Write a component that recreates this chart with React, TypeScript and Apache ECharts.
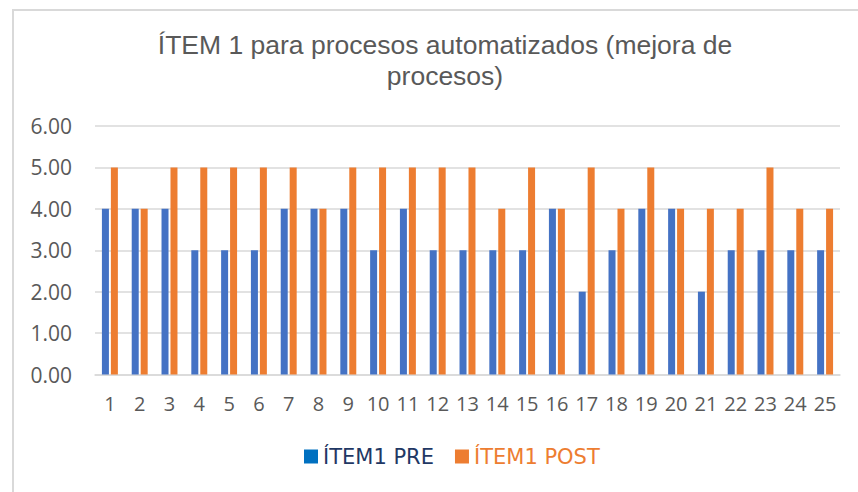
import React, { useEffect, useRef } from "react";
import * as echarts from "echarts";

const categories = ["1","2","3","4","5","6","7","8","9","10","11","12","13","14","15","16","17","18","19","20","21","22","23","24","25"];
const preValues = [4,4,4,3,3,3,4,4,4,3,4,3,3,3,3,4,2,3,4,4,2,3,3,3,3];
const postValues = [5,4,5,5,5,5,5,4,5,5,5,5,5,4,5,4,5,4,5,4,4,4,5,4,4];
const seriesNames = ["ÍTEM1 PRE", "ÍTEM1 POST"];
const titleText = "ÍTEM 1 para procesos automatizados (mejora de\nprocesos)";

export default function App() {
  const ref = useRef<HTMLDivElement>(null);
  useEffect(() => {
    if (!ref.current) return;
    const chart = echarts.init(ref.current, undefined, { renderer: "svg" });
    chart.setOption({
      animation: false,
      backgroundColor: "#ffffff",
      title: {
        text: titleText,
        left: 440,
        top: 24,
        textAlign: "center",
        textStyle: {
          fontFamily: "Liberation Sans",
          fontSize: 26.5,
          fontWeight: "normal",
          color: "#595959",
          lineHeight: 31,
        },
      },
      graphic: [
        {
          type: "rect",
          shape: { x: 13, y: 10, width: 900, height: 600 },
          style: { fill: "none", stroke: "#d9d9d9", lineWidth: 2 },
          silent: true,
          z: -1,
        },
      ],
      legend: {
        left: 299,
        top: 441,
        icon: "rect",
        itemWidth: 14,
        itemHeight: 14,
        itemGap: 21,
        textStyle: { fontFamily: "DejaVu Sans", fontSize: 21 },
        data: [
          { name: seriesNames[0], itemStyle: { color: "#0070C0" }, textStyle: { color: "#1F3864" } },
          { name: seriesNames[1], itemStyle: { color: "#ED7D31" }, textStyle: { color: "#ED7D31" } },
        ],
      },
      grid: { left: 95, right: 18, top: 126, bottom: 117.5, containLabel: false },
      xAxis: {
        type: "category",
        data: categories,
        axisTick: { show: false },
        axisLine: { lineStyle: { color: "#d9d9d9", width: 1.5 } },
        axisLabel: {
          interval: 0,
          margin: 19,
          fontFamily: "Open Sans",
          fontSize: 20,
          color: "#595959",
        },
      },
      yAxis: {
        type: "value",
        min: 0,
        max: 6,
        interval: 1,
        axisLine: { show: false },
        axisTick: { show: false },
        splitLine: { lineStyle: { color: "#d9d9d9", width: 1.5 } },
        axisLabel: {
          margin: 23,
          fontFamily: "Open Sans",
          fontSize: 21,
          color: "#595959",
          formatter: (v: number) => v.toFixed(2),
        },
      },
      series: [
        {
          name: seriesNames[0],
          type: "bar",
          data: preValues,
          barWidth: 7,
          barGap: "28%",
          itemStyle: { color: "#4472C4" },
        },
        {
          name: seriesNames[1],
          type: "bar",
          data: postValues,
          barWidth: 7,
          barGap: "28%",
          itemStyle: { color: "#ED7D31" },
        },
      ],
    });
    return () => chart.dispose();
  }, []);
  return (
    <div
      ref={ref}
      style={{ position: "fixed", left: 0, top: 0, width: 858, height: 492 }}
    />
  );
}
